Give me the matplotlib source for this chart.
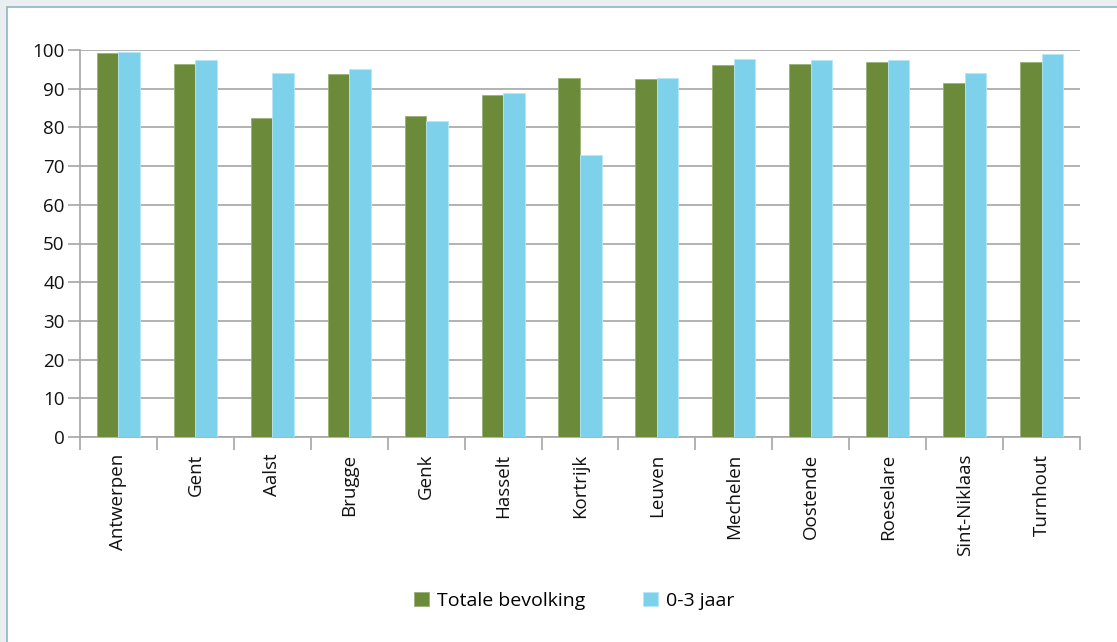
import matplotlib.pyplot as plt
import matplotlib.patches as mpatches
import numpy as np

plt.rcParams['font.family'] = ['Open Sans', 'DejaVu Sans']

# Data
steden = ["Antwerpen", "Gent", "Aalst", "Brugge", "Genk", "Hasselt", "Kortrijk",
          "Leuven", "Mechelen", "Oostende", "Roeselare", "Sint-Niklaas", "Turnhout"]
totale_bevolking = [99.2, 96.5, 82.4, 93.7, 82.9, 88.4, 92.8, 92.4, 96.1, 96.4, 96.9, 91.6, 97.0]
jaar_0_3 = [99.4, 97.4, 94.0, 95.0, 81.6, 88.9, 72.9, 92.8, 97.8, 97.3, 97.4, 94.0, 99.0]
series_labels = ["Totale bevolking", "0-3 jaar"]

green = "#6b8a3a"
blue = "#7dd1ea"
grid_col = "#a6a6a6"

fig = plt.figure(figsize=(11.17, 6.42), dpi=100)
fig.patch.set_facecolor("#e9eef1")

# white panel with border on top/left
panel = mpatches.Rectangle((7 / 1117, -0.05), 1.1, (642 - 7) / 642 + 0.05,
                           transform=fig.transFigure, facecolor="white",
                           edgecolor="#8db4c6", linewidth=1.2, zorder=-5)
fig.patches.append(panel)

ax = fig.add_axes([80 / 1117, (642 - 437) / 642, 1000 / 1117, 387 / 642])
ax.set_zorder(2)
ax.set_facecolor("none")

x = np.arange(len(steden))
w = 0.28
ax.bar(x - w / 2, totale_bevolking, width=w, color=green, edgecolor="#9bb07a",
       linewidth=0.6, label=series_labels[0], zorder=3)
ax.bar(x + w / 2, jaar_0_3, width=w, color=blue, edgecolor="#b6e6f5",
       linewidth=0.6, label=series_labels[1], zorder=3)

ax.set_xlim(-0.5, len(steden) - 0.5)
ax.set_ylim(0, 100)
ax.set_yticks(np.arange(0, 101, 10))
ax.yaxis.grid(True, color=grid_col, linewidth=1.2, zorder=0)

# category labels at the centers, tick marks at the boundaries
ax.set_xticks(x)
ax.set_xticklabels(steden, rotation=90, fontsize=13.5, color="#111111")
ax.tick_params(axis="x", length=0, pad=12)
ax.set_xticks(np.arange(-0.5, len(steden), 1), minor=True)
ax.tick_params(axis="x", which="minor", length=9, color=grid_col, width=1.2)
ax.tick_params(axis="y", length=9, color=grid_col, width=1.2, labelsize=13.5,
               labelcolor="#111111", pad=2)

for side in ["top", "right"]:
    ax.spines[side].set_visible(False)
for side in ["left", "bottom"]:
    ax.spines[side].set_color(grid_col)
    ax.spines[side].set_linewidth(1.2)

fig.legend(loc="center", bbox_to_anchor=(0.514, 0.064), ncol=2, frameon=False,
           fontsize=14, handlelength=0.75, handleheight=0.75, handletextpad=0.4,
           columnspacing=3.0)

fig.savefig("out.png", dpi=100, facecolor=fig.get_facecolor())
